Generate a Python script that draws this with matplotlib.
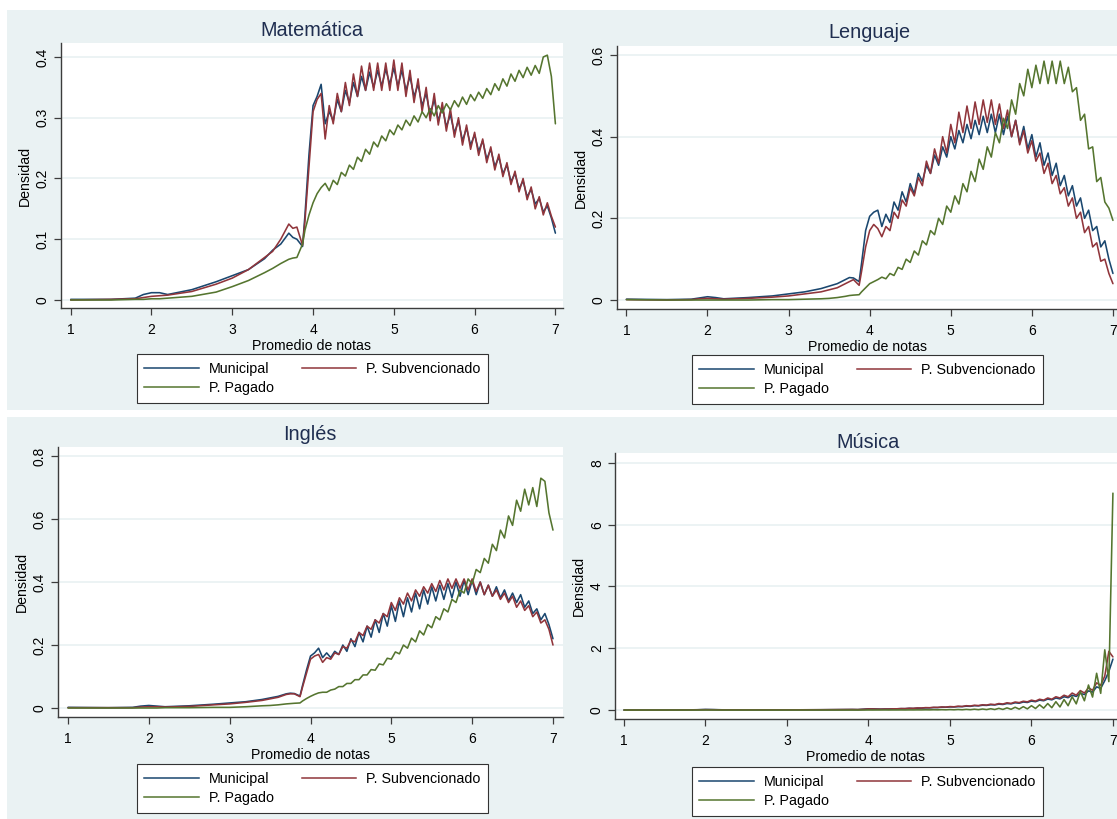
import numpy as np
import matplotlib
matplotlib.use("Agg")
import matplotlib.pyplot as plt
from matplotlib.lines import Line2D
from matplotlib.patches import Rectangle

plt.rcParams["font.family"] = ["Liberation Sans", "DejaVu Sans"]

W, H = 1117, 819

# ---------------------------------------------------------------------------
# Data. Lower tail on a coarse grid, then the
# half-step grid 3.95 .. 7.00 where the densities oscillate.
# ---------------------------------------------------------------------------
X_TAIL = [1.0, 1.5, 1.8, 1.9, 2.0, 2.1, 2.2, 2.5, 2.8, 3.0, 3.2, 3.4, 3.5, 3.6, 3.7, 3.75, 3.8, 3.87, 3.9]
X_OSC = list(np.round(np.arange(3.95, 7.0001, 0.05), 2))

LABELS = ["Municipal", "P. Subvencionado", "P. Pagado"]
COLORS = ["#1A476F", "#90353B", "#55752F"]

# Matemática
MAT_MUN_TAIL = [0.001, 0.001, 0.003, 0.009, 0.012, 0.012, 0.009, 0.017, 0.03, 0.04, 0.05, 0.068, 0.082, 0.092, 0.11, 0.103, 0.1, 0.088, 0.14]
MAT_MUN_OSC = [0.24,
    0.32, 0.335, 0.355, 0.29, 0.31, 0.295, 0.33, 0.31, 0.345, 0.325, 0.358, 0.335, 0.368, 0.345, 0.375, 0.35, 0.378, 0.352, 0.38, 0.355,
    0.382, 0.352, 0.378, 0.345, 0.368, 0.335, 0.355, 0.32, 0.34, 0.305, 0.33, 0.295, 0.318, 0.285, 0.305, 0.275, 0.295, 0.262, 0.283, 0.255,
    0.272, 0.245, 0.262, 0.232, 0.248, 0.22, 0.235, 0.208, 0.222, 0.195, 0.208, 0.183, 0.196, 0.17, 0.182, 0.158, 0.167, 0.145, 0.155, 0.135,
    0.11]
MAT_SUB_TAIL = [0.0, 0.001, 0.002, 0.004, 0.006, 0.007, 0.008, 0.014, 0.026, 0.036, 0.05, 0.07, 0.08, 0.1, 0.125, 0.118, 0.12, 0.09, 0.13]
MAT_SUB_OSC = [0.22,
    0.31, 0.33, 0.34, 0.265, 0.32, 0.29, 0.34, 0.31, 0.358, 0.32, 0.372, 0.335, 0.385, 0.345, 0.39, 0.345, 0.39, 0.345, 0.39, 0.345,
    0.395, 0.345, 0.39, 0.335, 0.378, 0.325, 0.364, 0.31, 0.35, 0.295, 0.34, 0.288, 0.325, 0.278, 0.315, 0.268, 0.3, 0.255, 0.288, 0.248,
    0.276, 0.238, 0.265, 0.226, 0.252, 0.214, 0.24, 0.203, 0.226, 0.19, 0.212, 0.178, 0.2, 0.165, 0.186, 0.15, 0.17, 0.14, 0.16, 0.138,
    0.12]
MAT_PAG_TAIL = [0.0, 0.0, 0.001, 0.001, 0.002, 0.002, 0.003, 0.006, 0.013, 0.022, 0.032, 0.045, 0.052, 0.06, 0.067, 0.069, 0.07, 0.092, 0.115]
MAT_PAG_OSC = [0.14,
    0.16, 0.175, 0.185, 0.192, 0.18, 0.197, 0.19, 0.21, 0.204, 0.222, 0.215, 0.235, 0.228, 0.248, 0.24, 0.26, 0.252, 0.27, 0.262, 0.28,
    0.272, 0.288, 0.28, 0.296, 0.287, 0.303, 0.293, 0.31, 0.3, 0.315, 0.303, 0.32, 0.308, 0.323, 0.313, 0.328, 0.318, 0.334, 0.322, 0.338,
    0.328, 0.342, 0.332, 0.348, 0.338, 0.356, 0.345, 0.364, 0.352, 0.372, 0.36, 0.378, 0.366, 0.383, 0.37, 0.386, 0.373, 0.4, 0.403, 0.368,
    0.29]

# Lenguaje
LEN_MUN_TAIL = [0.002, 0.001, 0.002, 0.005, 0.008, 0.006, 0.003, 0.006, 0.01, 0.015, 0.02, 0.028, 0.034, 0.04, 0.05, 0.055, 0.054, 0.045, 0.09]
LEN_MUN_OSC = [0.17,
    0.205, 0.215, 0.22, 0.18, 0.21, 0.19, 0.24, 0.22, 0.265, 0.24, 0.285, 0.26, 0.31, 0.29, 0.33, 0.31, 0.355, 0.33, 0.375, 0.35,
    0.4, 0.37, 0.415, 0.385, 0.43, 0.395, 0.44, 0.405, 0.45, 0.41, 0.455, 0.41, 0.455, 0.405, 0.45, 0.4, 0.44, 0.385, 0.425, 0.37,
    0.405, 0.35, 0.385, 0.33, 0.36, 0.305, 0.335, 0.28, 0.305, 0.255, 0.28, 0.23, 0.25, 0.2, 0.22, 0.17, 0.18, 0.13, 0.145, 0.1,
    0.065]
LEN_SUB_TAIL = [0.001, 0.0, 0.001, 0.003, 0.004, 0.003, 0.002, 0.004, 0.007, 0.01, 0.015, 0.02, 0.025, 0.03, 0.04, 0.045, 0.05, 0.036, 0.07]
LEN_SUB_OSC = [0.13,
    0.17, 0.185, 0.175, 0.155, 0.18, 0.17, 0.215, 0.2, 0.245, 0.23, 0.275, 0.255, 0.3, 0.28, 0.34, 0.31, 0.37, 0.335, 0.4, 0.36,
    0.43, 0.385, 0.46, 0.41, 0.475, 0.42, 0.485, 0.43, 0.49, 0.435, 0.49, 0.43, 0.48, 0.42, 0.465, 0.4, 0.44, 0.38, 0.415, 0.36,
    0.39, 0.34, 0.36, 0.31, 0.335, 0.285, 0.305, 0.26, 0.275, 0.23, 0.25, 0.2, 0.215, 0.165, 0.18, 0.13, 0.14, 0.095, 0.1, 0.065,
    0.04]
LEN_PAG_TAIL = [0.001, 0.0, 0.0, 0.0, 0.0, 0.0, 0.0, 0.0, 0.001, 0.001, 0.002, 0.003, 0.004, 0.006, 0.009, 0.011, 0.012, 0.013, 0.02]
LEN_PAG_OSC = [0.03,
    0.04, 0.045, 0.05, 0.056, 0.052, 0.065, 0.06, 0.08, 0.075, 0.1, 0.092, 0.12, 0.11, 0.145, 0.135, 0.17, 0.16, 0.2, 0.185, 0.23,
    0.215, 0.255, 0.235, 0.285, 0.265, 0.315, 0.29, 0.345, 0.32, 0.375, 0.35, 0.41, 0.385, 0.445, 0.42, 0.49, 0.455, 0.53, 0.5, 0.565,
    0.52, 0.575, 0.53, 0.585, 0.53, 0.585, 0.53, 0.585, 0.53, 0.57, 0.51, 0.52, 0.44, 0.455, 0.37, 0.375, 0.29, 0.3, 0.24, 0.225,
    0.195]

# Inglés
ING_MUN_TAIL = [0.002, 0.001, 0.002, 0.006, 0.008, 0.006, 0.004, 0.007, 0.012, 0.016, 0.02, 0.027, 0.032, 0.037, 0.045, 0.047, 0.046, 0.038, 0.07]
ING_MUN_OSC = [0.12,
    0.165, 0.175, 0.19, 0.16, 0.175, 0.16, 0.18, 0.17, 0.2, 0.18, 0.22, 0.195, 0.24, 0.21, 0.26, 0.225, 0.28, 0.24, 0.3, 0.26,
    0.325, 0.275, 0.34, 0.29, 0.35, 0.305, 0.365, 0.315, 0.375, 0.33, 0.385, 0.34, 0.39, 0.345, 0.395, 0.35, 0.4, 0.355, 0.405, 0.36,
    0.405, 0.36, 0.4, 0.36, 0.39, 0.355, 0.385, 0.35, 0.375, 0.34, 0.365, 0.335, 0.36, 0.32, 0.34, 0.3, 0.315, 0.28, 0.3, 0.265,
    0.22]
ING_SUB_TAIL = [0.001, 0.001, 0.001, 0.003, 0.004, 0.004, 0.003, 0.005, 0.01, 0.013, 0.018, 0.024, 0.029, 0.034, 0.043, 0.045, 0.045, 0.036, 0.065]
ING_SUB_OSC = [0.11,
    0.155, 0.165, 0.17, 0.145, 0.16, 0.155, 0.175, 0.17, 0.195, 0.19, 0.215, 0.21, 0.24, 0.23, 0.26, 0.25, 0.28, 0.27, 0.3, 0.29,
    0.335, 0.31, 0.35, 0.33, 0.365, 0.34, 0.375, 0.355, 0.385, 0.365, 0.395, 0.37, 0.405, 0.375, 0.41, 0.38, 0.41, 0.38, 0.41, 0.375,
    0.41, 0.37, 0.4, 0.36, 0.39, 0.355, 0.375, 0.345, 0.365, 0.335, 0.355, 0.32, 0.34, 0.31, 0.325, 0.29, 0.305, 0.27, 0.28, 0.25,
    0.2]
ING_PAG_TAIL = [0.0, 0.0, 0.0, 0.0, 0.0, 0.0, 0.001, 0.001, 0.002, 0.002, 0.004, 0.007, 0.008, 0.01, 0.013, 0.014, 0.015, 0.016, 0.022]
ING_PAG_OSC = [0.03,
    0.037, 0.043, 0.048, 0.05, 0.05, 0.057, 0.06, 0.068, 0.068, 0.078, 0.078, 0.09, 0.09, 0.105, 0.105, 0.122, 0.12, 0.14, 0.137, 0.158,
    0.155, 0.178, 0.172, 0.2, 0.19, 0.222, 0.21, 0.245, 0.232, 0.265, 0.255, 0.29, 0.28, 0.315, 0.305, 0.345, 0.335, 0.375, 0.365, 0.41,
    0.395, 0.44, 0.43, 0.475, 0.46, 0.52, 0.5, 0.565, 0.54, 0.61, 0.58, 0.66, 0.625, 0.695, 0.645, 0.7, 0.64, 0.73, 0.72, 0.62,
    0.565]

# Música
MUS_MUN_TAIL = [0.0, 0.0, 0.005, 0.01, 0.02, 0.015, 0.008, 0.006, 0.006, 0.007, 0.008, 0.01, 0.012, 0.014, 0.016, 0.017, 0.018, 0.015, 0.02]
MUS_MUN_OSC = [0.03,
    0.04, 0.04, 0.035, 0.03, 0.035, 0.035, 0.04, 0.04, 0.045, 0.045, 0.055, 0.05, 0.06, 0.06, 0.07, 0.07, 0.08, 0.08, 0.09, 0.09,
    0.1, 0.1, 0.11, 0.11, 0.125, 0.12, 0.14, 0.135, 0.155, 0.15, 0.17, 0.165, 0.19, 0.18, 0.21, 0.2, 0.235, 0.22, 0.26, 0.245,
    0.29, 0.27, 0.32, 0.3, 0.355, 0.33, 0.39, 0.36, 0.43, 0.4, 0.48, 0.44, 0.54, 0.5, 0.62, 0.58, 0.75, 0.7, 0.95, 1.25,
    1.65]
MUS_SUB_TAIL = [0.0, 0.0, 0.004, 0.008, 0.012, 0.01, 0.006, 0.005, 0.006, 0.007, 0.008, 0.01, 0.012, 0.014, 0.016, 0.017, 0.018, 0.015, 0.02]
MUS_SUB_OSC = [0.025,
    0.035, 0.035, 0.03, 0.028, 0.032, 0.032, 0.04, 0.04, 0.048, 0.046, 0.058, 0.055, 0.068, 0.065, 0.078, 0.075, 0.088, 0.085, 0.1, 0.095,
    0.112, 0.105, 0.125, 0.115, 0.14, 0.13, 0.155, 0.145, 0.17, 0.16, 0.19, 0.175, 0.21, 0.195, 0.235, 0.215, 0.26, 0.24, 0.285, 0.265,
    0.32, 0.29, 0.35, 0.32, 0.39, 0.35, 0.43, 0.39, 0.48, 0.43, 0.55, 0.48, 0.63, 0.55, 0.72, 0.64, 0.88, 0.8, 1.1, 1.9,
    1.72]
MUS_PAG_TAIL = [0.0, 0.0, 0.0, 0.0, 0.001, 0.001, 0.0, 0.0, 0.0, 0.0, 0.0, 0.0, 0.0, 0.0, 0.0, 0.0, 0.0, 0.0, 0.0]
MUS_PAG_OSC = [0.0,
    0.002, 0.001, 0.002, 0.002, 0.003, 0.002, 0.003, 0.003, 0.004, 0.003, 0.005, 0.004, 0.006, 0.005, 0.008, 0.006, 0.01, 0.007, 0.012, 0.008,
    0.015, 0.009, 0.018, 0.01, 0.022, 0.012, 0.027, 0.013, 0.033, 0.015, 0.042, 0.017, 0.055, 0.02, 0.07, 0.025, 0.09, 0.03, 0.11, 0.038,
    0.14, 0.05, 0.17, 0.06, 0.21, 0.075, 0.27, 0.1, 0.34, 0.14, 0.43, 0.2, 0.6, 0.3, 0.81, 0.42, 1.19, 0.54, 1.95, 0.92,
    7.02]

X_TICKS = [1, 2, 3, 4, 5, 6, 7]
Y_TICKS_MAT = [0, 0.1, 0.2, 0.3, 0.4]
Y_TICKS_LEN = [0, 0.2, 0.4, 0.6]
Y_TICKS_ING = [0, 0.2, 0.4, 0.6, 0.8]
Y_TICKS_MUS = [0, 2, 4, 6, 8]

# ---------------------------------------------------------------------------
# Layout (pixel geometry of the Stata combined graph)
# ---------------------------------------------------------------------------
BG = "#EAF2F3"
GRID_C = "#EAF2F3"
AX_C = "#3c3c3c"
TITLE_C = "#1F2E50"

panels = [
    dict(title="Matemática", series=[(MAT_MUN_TAIL, MAT_MUN_OSC), (MAT_SUB_TAIL, MAT_SUB_OSC), (MAT_PAG_TAIL, MAT_PAG_OSC)],
         yticks=Y_TICKS_MAT, bg=(7, 10, 563, 410), ax=(61, 43, 563, 308), xlim=(0.88, 7.094), ylim=(-0.0132, 0.423),
         title_xy=(312, 30), leg=(137, 354, 488, 403)),
    dict(title="Lenguaje", series=[(LEN_MUN_TAIL, LEN_MUN_OSC), (LEN_SUB_TAIL, LEN_SUB_OSC), (LEN_PAG_TAIL, LEN_PAG_OSC)],
         yticks=Y_TICKS_LEN, bg=(563, 10, 1117, 410), ax=(617, 46, 1117, 309), xlim=(0.884, 7.05), ylim=(-0.022, 0.622),
         title_xy=(869, 33), leg=(692, 355, 1043, 404)),
    dict(title="Inglés", series=[(ING_MUN_TAIL, ING_MUN_OSC), (ING_SUB_TAIL, ING_SUB_OSC), (ING_PAG_TAIL, ING_PAG_OSC)],
         yticks=Y_TICKS_ING, bg=(7, 417, 563, 819), ax=(58, 447, 563, 717), xlim=(0.876, 7.124), ylim=(-0.0286, 0.829),
         title_xy=(310, 434), leg=(137, 764, 488, 813)),
    dict(title="Música", series=[(MUS_MUN_TAIL, MUS_MUN_OSC), (MUS_SUB_TAIL, MUS_SUB_OSC), (MUS_PAG_TAIL, MUS_PAG_OSC)],
         yticks=Y_TICKS_MUS, bg=(563, 417, 1117, 819), ax=(615, 453, 1117, 719), xlim=(0.89, 7.05), ylim=(-0.29, 8.32),
         title_xy=(868, 442), leg=(692, 767, 1043, 816)),
]


def frac_rect(l, t, r, b):
    return [l / W, 1 - b / H, (r - l) / W, (b - t) / H]


fig = plt.figure(figsize=(W / 100, H / 100), dpi=100)
fig.patch.set_facecolor("white")

x_all = X_TAIL + X_OSC
for p in panels:
    x0, y0, w, h = frac_rect(*p["bg"])
    fig.add_artist(Rectangle((x0, y0), w, h, transform=fig.transFigure,
                             facecolor=BG, edgecolor="none", zorder=0))
    ax = fig.add_axes(frac_rect(*p["ax"]))
    ax.set_facecolor("white")
    for (tail, osc), col in zip(p["series"], COLORS):
        assert len(tail) == len(X_TAIL) and len(osc) == len(X_OSC)
        ax.plot(x_all, tail + osc, color=col, lw=1.15, zorder=3,
                solid_joinstyle="round", solid_capstyle="round")

    ax.set_xlim(*p["xlim"])
    ax.set_ylim(*p["ylim"])
    ax.set_xticks(X_TICKS)
    ax.set_xticklabels([str(t) for t in X_TICKS])
    ax.set_yticks(p["yticks"])
    ax.set_yticklabels([f"{t:g}" for t in p["yticks"]])
    for lab in ax.get_yticklabels():
        lab.set_rotation(90)
        lab.set_va("center")
    ax.yaxis.grid(True, color=GRID_C, lw=1.3)
    ax.set_axisbelow(True)
    for s in ["top", "right"]:
        ax.spines[s].set_visible(False)
    for s in ["left", "bottom"]:
        ax.spines[s].set_color(AX_C)
        ax.spines[s].set_linewidth(1.0)
    ax.tick_params(axis="both", direction="out", length=5, width=0.9, color=AX_C, labelsize=10, labelcolor="black")
    ax.tick_params(axis="x", pad=6)
    ax.tick_params(axis="y", pad=3)
    ax.set_xlabel("Promedio de notas", fontsize=10.2, labelpad=1)
    ax.set_ylabel("Densidad", fontsize=10.2, labelpad=3)

    fig.text(p["title_xy"][0] / W, 1 - p["title_xy"][1] / H, p["title"],
             ha="center", va="center", fontsize=14.3, color=TITLE_C)

    handles = [Line2D([], [], color=COLORS[0], lw=1.1),
               Line2D([], [], color=COLORS[2], lw=1.1),
               Line2D([], [], color=COLORS[1], lw=1.1)]
    labels = [LABELS[0], LABELS[2], LABELS[1]]
    l, t, r, b = p["leg"]
    leg = ax.legend(handles, labels, ncol=2, mode="expand", loc="center",
                    bbox_to_anchor=(l / W, 1 - b / H, (r - l) / W, (b - t) / H),
                    bbox_transform=fig.transFigure, fontsize=10.3, frameon=True, fancybox=False,
                    framealpha=1, facecolor="white", edgecolor="#333333", borderpad=0.5,
                    labelspacing=0.4, handlelength=3.8, handletextpad=0.7, borderaxespad=0)
    leg.get_frame().set_linewidth(0.8)

fig.savefig("out.png", dpi=100, facecolor=fig.get_facecolor())
